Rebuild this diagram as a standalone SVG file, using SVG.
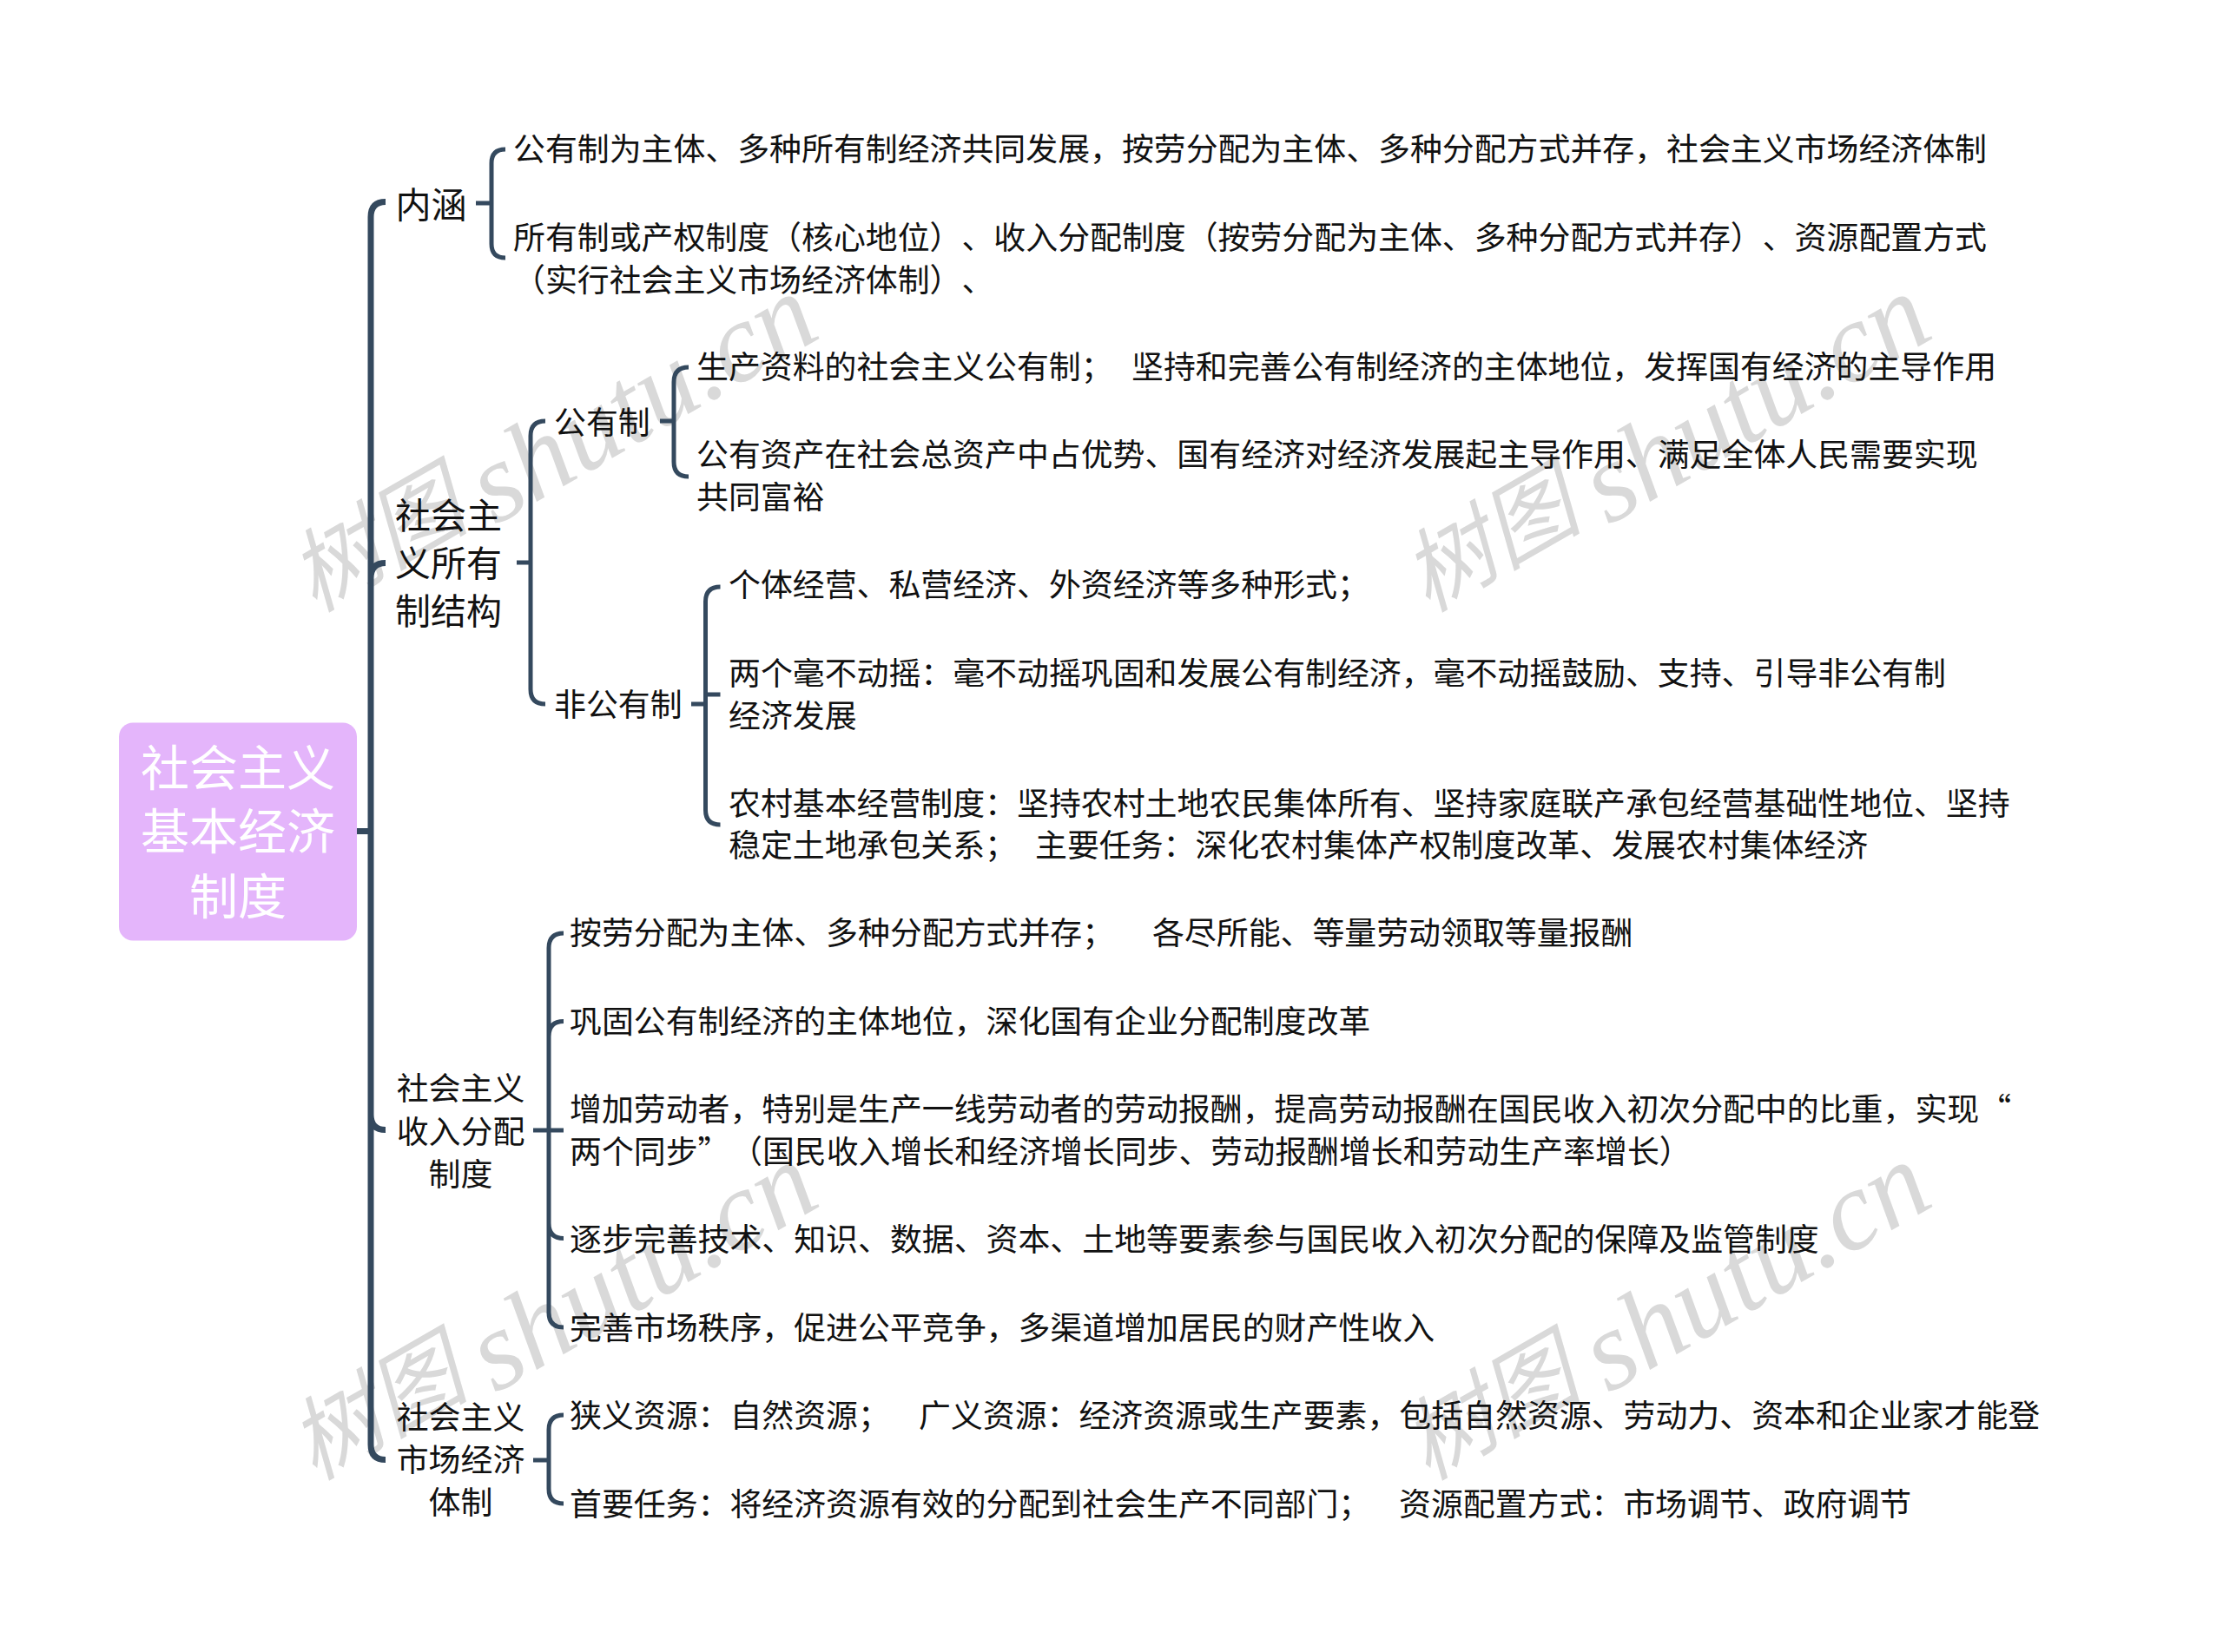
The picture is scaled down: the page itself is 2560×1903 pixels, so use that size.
<svg xmlns="http://www.w3.org/2000/svg" width="2560" height="1903" viewBox="0 0 2560 1903">
<style>
text{font-family:"Noto Sans CJK SC","Noto Sans",sans-serif;fill:#111;white-space:pre;text-spacing-trim:space-all;font-feature-settings:"chws" 0,"palt" 0;font-kerning:none}
.l{font-size:36.900px}
.b{font-size:41px}
.m{text-anchor:middle}
.r{font-size:56px;fill:#fff;text-anchor:middle}
.c{fill:none;stroke:#34495e;stroke-width:5}
.t{fill:none;stroke:#34495e;stroke-width:7}
.w{font-family:"Liberation Serif","Noto Sans CJK SC",serif;font-style:italic;font-size:130px;fill:#d9d9d9}
.wc{font-family:"Noto Sans CJK SC",sans-serif;font-size:104px}
</style>
<defs><text id="wm" class="w"><tspan class="wc">树图</tspan><tspan dx="-10" dy="17"> shutu.cn</tspan></text></defs>
<g id="watermarks">
<use href="#wm" transform="translate(362,706) rotate(-30)"/>
<use href="#wm" transform="translate(1644,706) rotate(-30)"/>
<use href="#wm" transform="translate(362,1706) rotate(-30)"/>
<use href="#wm" transform="translate(1644,1706) rotate(-30)"/>
</g>
<g id="connectors">
<path class="t" d="M410 957.500H427M444 232.500Q427 232.500 427 250V1664Q427 1681.500 444 1681.500M427 666Q427 648.500 444 648.500M427 1284Q427 1301.500 444 1301.500"/>
<path class="c" d="M548 234H566M582 172Q566 172 566 188V281Q566 297 582 297"/>
<path class="c" d="M595 648H611M628 485Q611 485 611 502V794Q611 811 628 811"/>
<path class="c" d="M760 485H776M793 423Q776 423 776 440V532Q776 549 793 549"/>
<path class="c" d="M796 811H812.500M829.500 676Q812.500 676 812.500 693V933Q812.500 950 829.500 950M812.500 800H829.500"/>
<path class="c" d="M614 1302H649M649 1075Q632 1075 632 1092V1512Q632 1529 649 1529M632 1194Q632 1176.500 649 1176.500M632 1409Q632 1426.500 649 1426.500"/>
<path class="c" d="M614 1682H632M649 1630Q632 1630 632 1647V1715Q632 1732 649 1732"/>
</g>
<g id="root"><rect x="137" y="832.500" width="274" height="251" rx="16" fill="#e4b5fb"/>
<text class="r" x="274" y="904.500">社会主义</text><text class="r" x="274" y="978">基本经济</text><text class="r" x="274" y="1053">制度</text></g>
<g id="n-neihan"><text class="b" x="455.500" y="251">内涵</text></g>
<g id="n-neihan-1"><text class="l" x="591" y="184.500">公有制为主体、多种所有制经济共同发展，按劳分配为主体、多种分配方式并存，社会主义市场经济体制</text></g>
<g id="n-neihan-2"><text class="l" x="591" y="286.500">所有制或产权制度（核心地位）、收入分配制度（按劳分配为主体、多种分配方式并存）、资源配置方式</text><text class="l" x="591" y="335.500">（实行社会主义市场经济体制）、</text></g>
<g id="n-suoyou"><text class="b" x="455" y="609">社会主</text><text class="b" x="455" y="664">义所有</text><text class="b" x="455" y="719">制结构</text></g>
<g id="n-gong"><text class="l" x="638" y="500">公有制</text></g>
<g id="n-gong-1"><text class="l" x="802" y="435.500">生产资料的社会主义公有制；<tspan x="1303">坚持和完善公有制经济的主体地位，发挥国有经济的主导作用</tspan></text></g>
<g id="n-gong-2"><text class="l" x="802" y="536.500">公有资产在社会总资产中占优势、国有经济对经济发展起主导作用、满足全体人民需要实现</text><text class="l" x="802" y="585.500">共同富裕</text></g>
<g id="n-fei"><text class="l" x="638" y="825">非公有制</text></g>
<g id="n-fei-1"><text class="l" x="839" y="686.500">个体经营、私营经济、外资经济等多种形式；</text></g>
<g id="n-fei-2"><text class="l" x="839" y="789">两个毫不动摇：毫不动摇巩固和发展公有制经济，毫不动摇鼓励、支持、引导非公有制</text><text class="l" x="839" y="837.500">经济发展</text></g>
<g id="n-fei-3"><text class="l" x="839" y="938.500">农村基本经营制度：坚持农村土地农民集体所有、坚持家庭联产承包经营基础性地位、坚持</text><text class="l" x="839" y="987">稳定土地承包关系；<tspan x="1192">主要任务：深化农村集体产权制度改革、发展农村集体经济</tspan></text></g>
<g id="n-shouru"><text class="l m" x="530.500" y="1267">社会主义</text><text class="l m" x="530.500" y="1316.500">收入分配</text><text class="l m" x="530.500" y="1365.500">制度</text></g>
<g id="n-shouru-1"><text class="l" x="656" y="1088">按劳分配为主体、多种分配方式并存；<tspan x="1327">各尽所能、等量劳动领取等量报酬</tspan></text></g>
<g id="n-shouru-2"><text class="l" x="656" y="1190">巩固公有制经济的主体地位，深化国有企业分配制度改革</text></g>
<g id="n-shouru-3"><text class="l" x="656" y="1291">增加劳动者，特别是生产一线劳动者的劳动报酬，提高劳动报酬在国民收入初次分配中的比重，实现“</text><text class="l" x="656" y="1340">两个同步”<tspan x="841">（国民收入增长和经济增长同步、劳动报酬增长和劳动生产率增长）</tspan></text></g>
<g id="n-shouru-4"><text class="l" x="656" y="1441">逐步完善技术、知识、数据、资本、土地等要素参与国民收入初次分配的保障及监管制度</text></g>
<g id="n-shouru-5"><text class="l" x="656" y="1543">完善市场秩序，促进公平竞争，多渠道增加居民的财产性收入</text></g>
<g id="n-shichang"><text class="l m" x="530.500" y="1645.500">社会主义</text><text class="l m" x="530.500" y="1695">市场经济</text><text class="l m" x="530.500" y="1743.500">体制</text></g>
<g id="n-shichang-1"><text class="l" x="656" y="1644">狭义资源：自然资源；<tspan x="1058">广义资源：经济资源或生产要素，包括自然资源、劳动力、资本和企业家才能登</tspan></text></g>
<g id="n-shichang-2"><text class="l" x="656" y="1746">首要任务：将经济资源有效的分配到社会生产不同部门；<tspan x="1611">资源配置方式：市场调节、政府调节</tspan></text></g>
</svg>
